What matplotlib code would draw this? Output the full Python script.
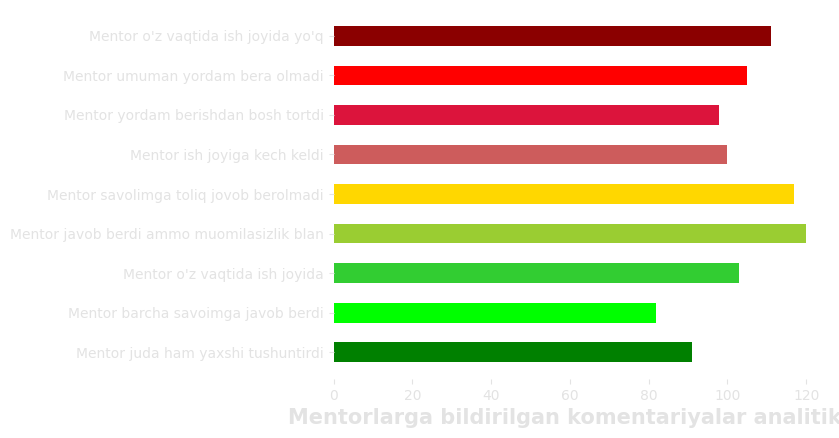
import matplotlib
matplotlib.use("Agg")
import matplotlib.pyplot as plt

categories = [
    "Mentor juda ham yaxshi tushuntirdi",
    "Mentor barcha savoimga javob berdi",
    "Mentor o'z vaqtida ish joyida",
    "Mentor javob berdi ammo muomilasizlik blan",
    "Mentor savolimga toliq jovob berolmadi",
    "Mentor ish joyiga kech keldi",
    "Mentor yordam berishdan bosh tortdi",
    "Mentor umuman yordam bera olmadi",
    "Mentor o'z vaqtida ish joyida yo'q",
]
values = [91, 82, 103, 120, 117, 100, 98, 105, 111]
colors = ["green", "lime", "limegreen", "yellowgreen", "gold",
          "indianred", "crimson", "red", "darkred"]
title = "Mentorlarga bildirilgan komentariyalar analitikasi"

txt = "#e3e3e3"
fig = plt.figure(figsize=(8.39, 4.38), dpi=100)
ax = fig.add_axes([0.3975, 0.135, 0.5915, 0.844])
ax.barh(categories, values, height=0.5, color=colors)
for s in ax.spines.values():
    s.set_visible(False)
ax.tick_params(colors=txt, labelsize=10)
for lab in ax.get_xticklabels() + ax.get_yticklabels():
    lab.set_color(txt)
ax.set_xlabel(title, fontsize=15, fontweight="bold", color=txt)
fig.savefig("out.png", dpi=100)
